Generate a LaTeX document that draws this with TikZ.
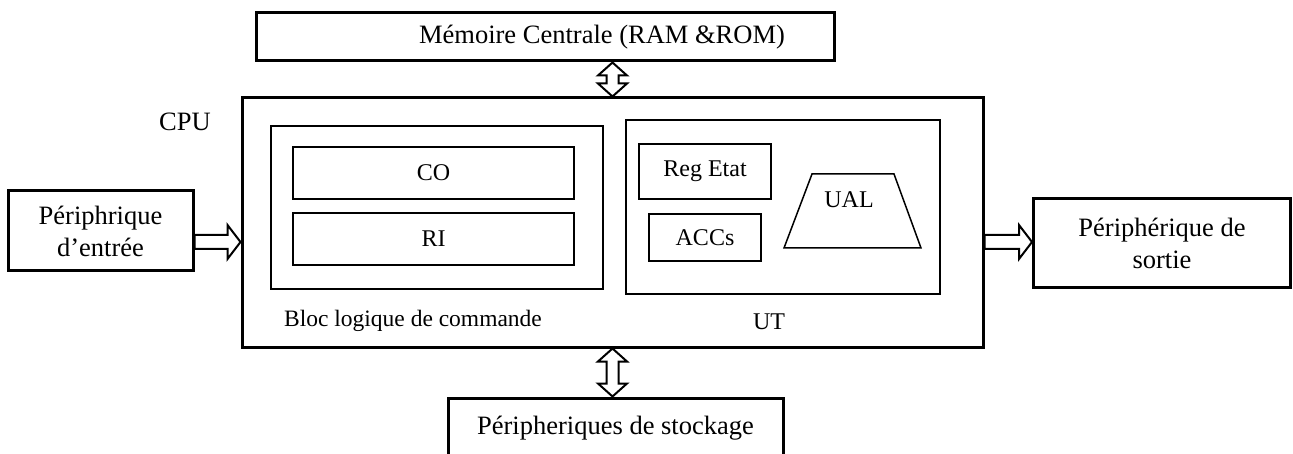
\documentclass[tikz,border=0pt]{standalone}
\usepackage{fontspec}
\setmainfont{Liberation Serif}
\usetikzlibrary{calc}

\tikzset{
  big/.style={font=\fontsize{26.5}{32}\selectfont},
  small/.style={font=\fontsize{24}{28}\selectfont},
  outerbox/.style={draw, line width=3pt, inner sep=0pt, align=center, big},
  innerbox/.style={draw, line width=1.5pt, inner sep=0pt, align=center, small},
  hollow/.style={draw, line width=2pt, fill=white, line join=miter},
}

% hollow arrow pointing right, from #1 to #2 (same height)
\newcommand{\hollowright}[2]{%
  \path[hollow] let \p1=#1, \p2=#2 in
    (\x1,\y1+7pt) -- (\x2-13pt,\y1+7pt) -- (\x2-13pt,\y1+17pt) -- (\x2,\y1)
    -- (\x2-13pt,\y1-17pt) -- (\x2-13pt,\y1-7pt) -- (\x1,\y1-7pt) -- cycle;}
% hollow two-headed vertical arrow, from #1 (top) to #2 (bottom)
\newcommand{\hollowvert}[2]{%
  \path[hollow] let \p1=#1, \p2=#2 in
    (\x1,\y1) -- (\x1+14.5pt,\y1-13pt) -- (\x1+6pt,\y1-13pt) -- (\x1+6pt,\y2+13pt)
    -- (\x1+14.5pt,\y2+13pt) -- (\x1,\y2) -- (\x1-14.5pt,\y2+13pt) -- (\x1-6pt,\y2+13pt)
    -- (\x1-6pt,\y1-13pt) -- (\x1-14.5pt,\y1-13pt) -- cycle;}

\begin{document}
\begin{tikzpicture}[x=1pt, y=-1pt]
\useasboundingbox (0,0) rectangle (1293,454);

% memory, CPU and peripherals
\node[outerbox, minimum width=578, minimum height=48] (mem) at (545,37) {};
\node[big] (memlbl) at (602,37) {Mémoire Centrale (RAM \&ROM)};
\node[outerbox, minimum width=741, minimum height=249] (cpu) at (612.5,222.5) {};
\node[big] (cpulbl) at (185,122) {CPU};
\node[outerbox, minimum width=185, minimum height=80] (in) at (100.5,231) {Périphrique\\d’entrée};
\node[outerbox, minimum width=257, minimum height=89] (out) at (1162,243.5) {Périphérique de\\sortie};
\node[outerbox, minimum width=335, minimum height=60] (sto) at (615.5,428) {Péripheriques de stockage};

% control block
\node[innerbox, minimum width=332, minimum height=163] (bloc) at (437,207.5) {};
\node[innerbox, minimum width=281, minimum height=52] (co) at (433.5,173) {CO};
\node[innerbox, minimum width=281, minimum height=52] (ri) at (433.5,239) {RI};
\node[font=\fontsize{23.5}{28}\selectfont] (bloclbl) at (413,321) {Bloc logique de commande};

% processing unit
\node[innerbox, minimum width=314, minimum height=174] (ut) at (783,207) {};
\node[innerbox, minimum width=132, minimum height=55] (reg) at (705,171.5) {Reg Etat};
\node[innerbox, minimum width=112, minimum height=47] (acc) at (705,237.5) {ACCs};
\draw[line width=1.5pt] (784,248) -- (812,174) -- (894,174) -- (921,248) -- cycle;
\node[small] (ual) at (849,200) {UAL};
\node[small] (utlbl) at (769,322) {UT};

% buses
\coordinate (busy) at (0,242);
\hollowright{(in.east |- busy)}{(cpu.west |- busy)}
\hollowright{(cpu.east |- busy)}{(out.west |- busy)}
\hollowvert{(cpu.north |- mem.south)}{(cpu.north)}
\hollowvert{(cpu.south)}{(sto.north)}
\end{tikzpicture}
\end{document}
